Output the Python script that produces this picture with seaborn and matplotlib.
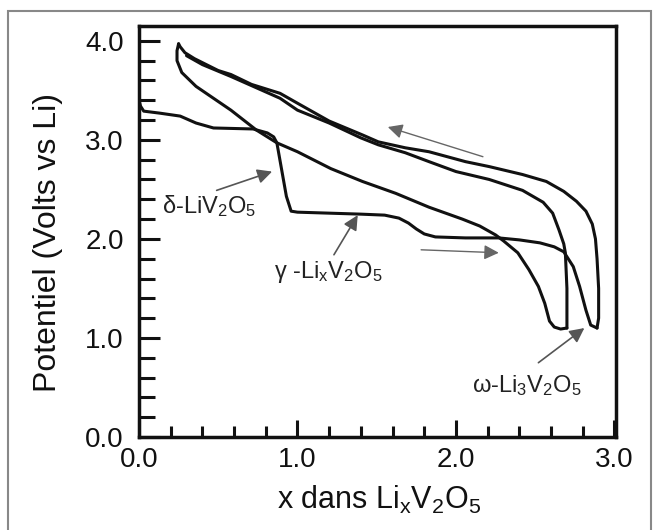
import matplotlib
matplotlib.use("Agg")
import matplotlib.pyplot as plt
import seaborn as sns
import pandas as pd
from matplotlib.ticker import MultipleLocator, FormatStrFormatter
from matplotlib.patches import Rectangle

# first discharge (delta -> gamma -> omega)
d1_x = [0.00, 0.01, 0.03, 0.13, 0.26, 0.36, 0.47, 0.72, 0.81, 0.85, 0.87, 0.90, 0.93, 0.96,
        1.00, 1.20, 1.40, 1.55, 1.64, 1.70, 1.75, 1.80, 1.87, 2.06, 2.27, 2.40, 2.53, 2.62,
        2.68, 2.74, 2.78, 2.82, 2.85, 2.89]
d1_y = [3.40, 3.34, 3.29, 3.27, 3.24, 3.17, 3.12, 3.11, 3.07, 3.03, 2.97, 2.70, 2.43, 2.28,
        2.27, 2.26, 2.25, 2.24, 2.21, 2.16, 2.10, 2.05, 2.02, 2.01, 2.01, 1.99, 1.96, 1.92,
        1.87, 1.72, 1.52, 1.28, 1.13, 1.10]

# first charge (outer curve)
c1_x = [2.89, 2.90, 2.90, 2.89, 2.88, 2.86, 2.82, 2.76, 2.68, 2.57, 2.42, 2.21, 2.06, 1.83,
        1.68, 1.51, 1.41, 1.20, 1.00, 0.89, 0.71, 0.58, 0.50, 0.35, 0.29, 0.26, 0.25]
c1_y = [1.10, 1.20, 1.50, 1.80, 2.00, 2.15, 2.28, 2.38, 2.48, 2.58, 2.65, 2.73, 2.78, 2.88,
        2.92, 2.98, 3.05, 3.19, 3.37, 3.47, 3.56, 3.66, 3.70, 3.82, 3.88, 3.94, 3.97]

# second discharge
d2_x = [0.25, 0.24, 0.24, 0.27, 0.36, 0.58, 0.74, 0.87, 1.00, 1.21, 1.41, 1.62, 1.83, 2.04,
        2.15, 2.25, 2.30, 2.39, 2.46, 2.52, 2.56, 2.59, 2.62, 2.66, 2.70]
d2_y = [3.97, 3.90, 3.80, 3.68, 3.54, 3.30, 3.10, 2.97, 2.88, 2.71, 2.58, 2.46, 2.32, 2.20,
        2.13, 2.04, 1.98, 1.86, 1.69, 1.52, 1.35, 1.17, 1.11, 1.09, 1.10]

# second charge
c2_x = [2.70, 2.70, 2.70, 2.69, 2.68, 2.65, 2.61, 2.55, 2.42, 2.21, 2.00, 1.83, 1.68, 1.51,
        1.40, 1.20, 1.00, 0.89, 0.58, 0.40, 0.30]
c2_y = [1.10, 1.12, 1.50, 1.86, 1.95, 2.09, 2.26, 2.37, 2.49, 2.60, 2.68, 2.78, 2.87, 2.95,
        3.02, 3.17, 3.30, 3.42, 3.64, 3.76, 3.85]

# annotations: label, text position, arrow tail, arrow head
labels = [r"δ-LiV$_2$O$_5$", r"γ -Li$_x$V$_2$O$_5$", r"ω-Li$_3$V$_2$O$_5$"]
label_pos = [(0.145, 2.33), (0.85, 1.67), (2.10, 0.52)]
label_tail = [(0.49, 2.49), (1.23, 1.84), (2.52, 0.75)]
label_head = [(0.84, 2.68), (1.38, 2.24), (2.81, 1.10)]

# direction arrows (tail, head)
dir_tail = [(2.17, 2.83), (1.78, 1.89)]
dir_head = [(1.57, 3.13), (2.27, 1.86)]

sns.set_theme(style="ticks")
plt.rcParams['font.family'] = ['Liberation Sans', 'DejaVu Sans']
plt.rcParams['mathtext.default'] = 'regular'

fig = plt.figure(figsize=(6.54, 5.30), dpi=100)
ax = fig.add_axes([0.2125, 0.1755, 0.7295, 0.7755])

for xs, ys in [(d1_x, d1_y), (c1_x, c1_y), (d2_x, d2_y), (c2_x, c2_y)]:
    seg = pd.DataFrame({"x": xs, "y": ys})
    sns.lineplot(data=seg, x="x", y="y", sort=False, estimator=None, errorbar=None,
                 color="#111111", lw=2.2, ax=ax,
                 solid_joinstyle="round", solid_capstyle="round")

for txt, pos, tail, head in zip(labels, label_pos, label_tail, label_head):
    ax.text(pos[0], pos[1], txt, fontsize=17, color="#222222", va="center", ha="left")
    ax.annotate("", xy=head, xytext=tail,
                arrowprops=dict(arrowstyle="-|>", color="#555555", lw=1.2,
                                mutation_scale=22, shrinkA=0, shrinkB=0))

for tail, head in zip(dir_tail, dir_head):
    ax.annotate("", xy=head, xytext=tail,
                arrowprops=dict(arrowstyle="-|>", color="#666666", lw=1.0,
                                mutation_scale=22, shrinkA=0, shrinkB=0))

ax.set_xlim(0, 3.01)
ax.set_ylim(0, 4.15)
ax.xaxis.set_major_locator(MultipleLocator(1.0))
ax.xaxis.set_minor_locator(MultipleLocator(0.2))
ax.yaxis.set_major_locator(MultipleLocator(1.0))
ax.yaxis.set_minor_locator(MultipleLocator(0.2))
ax.xaxis.set_major_formatter(FormatStrFormatter("%.1f"))
ax.yaxis.set_major_formatter(FormatStrFormatter("%.1f"))

ax.tick_params(axis="both", which="both", direction="in", width=2.2, colors="#111111",
               labelsize=20, labelcolor="#111111")
ax.tick_params(axis="x", which="major", length=12, pad=7)
ax.tick_params(axis="x", which="minor", length=8)
ax.tick_params(axis="y", which="major", length=15, pad=11)
ax.tick_params(axis="y", which="minor", length=11.5)

for sp in ax.spines.values():
    sp.set_linewidth(2.5)
    sp.set_color("#111111")

ax.set_xlabel(r"x dans Li$_x$V$_2$O$_5$", fontsize=22, color="#111111")
ax.set_ylabel("Potentiel (Volts vs Li)", fontsize=23, color="#111111")
ax.xaxis.set_label_coords(0.503, -0.115)
ax.yaxis.set_label_coords(-0.16, 0.472)
ax.xaxis.label.set_va("top")

fig.patches.append(Rectangle((8 / 654, -0.02), 643 / 654, (530 - 11) / 530 + 0.02,
                             transform=fig.transFigure, fill=False, ec="#888888",
                             lw=1.5, figure=fig))

fig.savefig("out.png", dpi=100)
